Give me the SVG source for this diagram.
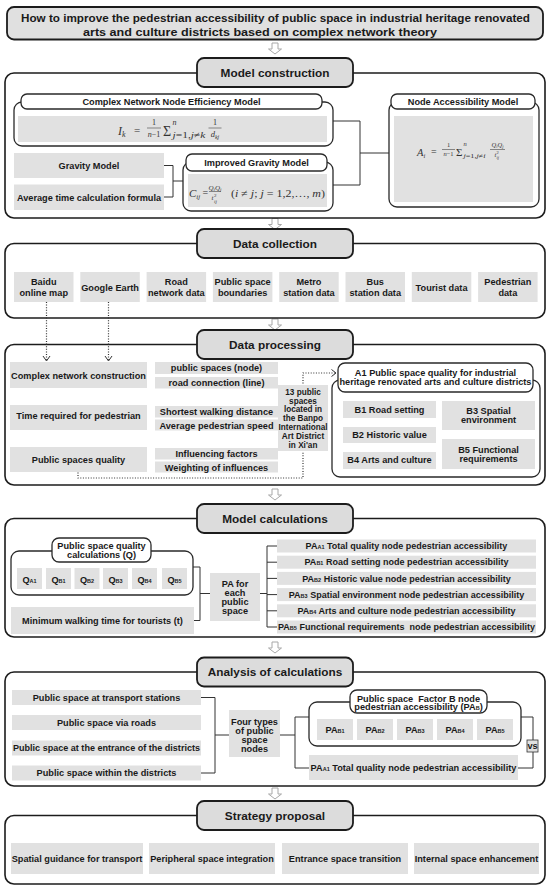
<svg xmlns="http://www.w3.org/2000/svg" width="550" height="889" viewBox="0 0 550 889">
<defs>
<style>
.box{fill:#e1e1e1}
.hdr{fill:#dcdcdc;stroke:#1c1c1c;stroke-width:1.8}
.outer{fill:none;stroke:#1c1c1c;stroke-width:1.6}
.cont{fill:#fff;stroke:#2a2a2a;stroke-width:1.3}
.pill{fill:#fff;stroke:#2a2a2a;stroke-width:1.3}
.t{font-family:"Liberation Sans",Arial,sans-serif;font-weight:bold;font-size:9.2px;fill:#1a1a1a;text-anchor:middle}
.h{font-size:11.8px}
.ttl{font-size:11.5px}
.s8{font-size:8.2px}
.s9{font-size:9px}
.f{font-family:"Liberation Serif","Times New Roman",serif;font-style:italic;fill:#333}
.m{text-anchor:middle}
.up{font-style:normal}
.conn{fill:none;stroke:#333;stroke-width:1}
.dot{fill:none;stroke:#333;stroke-width:1.2;stroke-dasharray:1 1.6}
.fl{stroke:#444;stroke-width:0.6}
.harrow{fill:#fff;stroke:#a8a8a8;stroke-width:1}
</style>
<path id="ha" d="M-3,0 h6 v6 h3.5 l-6.5,5 l-6.5,-5 h3.5 z"/>
</defs>
<rect width="550" height="889" fill="#fff"/>

<!-- title -->
<g id="title">
<rect x="7" y="7" width="536" height="32.5" rx="7" fill="#e0e0e0" stroke="#1c1c1c" stroke-width="1.8"/>
<text class="t ttl" x="275.5" y="22" textLength="509" lengthAdjust="spacingAndGlyphs">How to improve the pedestrian accessibility of public space in industrial heritage renovated</text>
<text class="t ttl" x="260" y="36" textLength="354" lengthAdjust="spacingAndGlyphs">arts and culture districts based on complex network theory</text>
</g>

<!-- flow arrows -->
<g id="flow-arrows">
<use href="#ha" class="harrow" x="275" y="43"/>
<use href="#ha" class="harrow" x="275" y="218.5"/>
<use href="#ha" class="harrow" x="275" y="319"/>
<use href="#ha" class="harrow" x="275" y="489"/>
<use href="#ha" class="harrow" x="275" y="642"/>
<use href="#ha" class="harrow" x="275" y="788"/>
</g>

<!-- section frames -->
<g id="sec-model-construction">
<rect class="outer" x="5" y="73" width="540" height="145" rx="9"/>
<rect class="hdr" x="197" y="58" width="156" height="29" rx="7"/>
<text class="t h" x="275" y="76.7">Model construction</text>
</g>
<g id="sec-data-collection">
<rect class="outer" x="5" y="243.5" width="540" height="74.5" rx="9"/>
<rect class="hdr" x="197" y="229" width="156" height="29" rx="7"/>
<text class="t h" x="275" y="247.7">Data collection</text>
</g>
<g id="sec-data-processing">
<rect class="outer" x="5" y="344.5" width="540" height="140.5" rx="9"/>
<rect class="hdr" x="197" y="330" width="156" height="29" rx="7"/>
<text class="t h" x="275" y="348.7">Data processing</text>
</g>
<g id="sec-model-calculations">
<rect class="outer" x="5" y="518.5" width="540" height="118.5" rx="9"/>
<rect class="hdr" x="197" y="504" width="156" height="29" rx="7"/>
<text class="t h" x="275" y="522.7">Model calculations</text>
</g>
<g id="sec-analysis">
<rect class="outer" x="5" y="672" width="540" height="114" rx="9"/>
<rect class="hdr" x="197" y="657.5" width="156" height="29" rx="7"/>
<text class="t h" x="275" y="676.2">Analysis of calculations</text>
</g>
<g id="sec-strategy">
<rect class="outer" x="5" y="815.5" width="540" height="68.5" rx="9"/>
<rect class="hdr" x="197" y="801" width="156" height="29" rx="7"/>
<text class="t h" x="275" y="819.7">Strategy proposal</text>
</g>

<!-- connectors -->
<g id="connectors">
<path class="conn" d="M164,165.5 H173 V197 H164 M173,181 H183"/>
<path class="conn" d="M333,121 H360 V185 H333 M360,153 H389"/>
<path class="dot" d="M46.5,302 V360"/>
<path class="conn" d="M43,356 L46.5,361 L50,356"/>
<path class="dot" d="M108.5,302 V360"/>
<path class="conn" d="M105,356 L108.5,361 L112,356"/>
<path class="dot" d="M78,472.5 V478 H303 V373 H335"/>
<path class="conn" d="M331.5,369.5 L336,373 L331.5,376.5"/>
<path class="conn" d="M193,567 H200 V620.5 H194 M200,593.5 H210"/>
<path class="conn" d="M260,593.5 H267 M267,546 V627 M267,546 H277 M267,562.2 H277 M267,578.4 H277 M267,594.6 H277 M267,610.8 H277 M267,627 H277"/>
<path class="conn" d="M201,697.5 H215 V773 H201 M215,735 H229"/>
<path class="conn" d="M280,735 H295 M295,717 V768 M295,717 H309 M295,768 H309"/>
<path class="conn" d="M521,717 H533 V768 H518"/>
</g>

<!-- Model construction nodes -->
<g id="node-efficiency-model">
<rect class="cont" x="14" y="102" width="319" height="44" rx="8"/>
<rect class="box" x="18" y="116" width="309" height="26"/>
<rect class="pill" x="21" y="94" width="301" height="15" rx="6"/>
<text class="t" x="171.5" y="104.8">Complex Network Node Efficiency Model</text>
<text class="f" x="118" y="135" font-size="12">I<tspan font-size="8" dy="2">k</tspan></text>
<text class="f up" x="134" y="133.5" font-size="11">=</text>
<text class="f up m" x="154" y="125" font-size="8">1</text>
<line class="fl" x1="147" y1="128" x2="161" y2="128"/>
<text class="f m" x="154" y="136.5" font-size="8">n<tspan class="up">−1</tspan></text>
<text class="f up" x="163" y="135.5" font-size="14">Σ</text>
<text class="f" x="172.5" y="125" font-size="8">n</text>
<text class="f" x="172.5" y="138" font-size="9" textLength="33" lengthAdjust="spacingAndGlyphs">j<tspan class="up">=1,</tspan>j<tspan class="up">≠</tspan>k</text>
<text class="f up m" x="215" y="125" font-size="8">1</text>
<line class="fl" x1="208.5" y1="128" x2="221.5" y2="128"/>
<text class="f m" x="215" y="137" font-size="8.5">d<tspan font-size="6" dy="1.5">kj</tspan></text>
</g>

<g id="node-accessibility-model">
<rect class="cont" x="389" y="102" width="150" height="105" rx="8"/>
<rect class="box" x="394" y="116" width="139" height="86"/>
<rect class="pill" x="391" y="94" width="144" height="15" rx="6"/>
<text class="t" x="463" y="104.8">Node Accessibility Model</text>
<text class="f" x="417" y="156" font-size="10.5">A<tspan font-size="6.5" dy="2">i</tspan></text>
<text class="f up" x="431" y="155" font-size="10">=</text>
<text class="f up m" x="448.5" y="147" font-size="6.5">1</text>
<line class="fl" x1="442" y1="149.5" x2="455" y2="149.5"/>
<text class="f m" x="448.5" y="156" font-size="6.5">n<tspan class="up">−1</tspan></text>
<text class="f up" x="456" y="156" font-size="11">Σ</text>
<text class="f" x="463.5" y="146" font-size="6.5">n</text>
<text class="f" x="463.5" y="157.5" font-size="6.5" textLength="22" lengthAdjust="spacingAndGlyphs">j<tspan class="up">=1,</tspan>j<tspan class="up">≠</tspan>i</text>
<text class="f m" x="497.5" y="147" font-size="6.5">Q<tspan font-size="4.5" dy="1.2">i</tspan><tspan dy="-1.2">Q</tspan><tspan font-size="4.5" dy="1.2">j</tspan></text>
<line class="fl" x1="490" y1="149.5" x2="505" y2="149.5"/>
<text class="f" x="494.5" y="157" font-size="6.5">t</text>
<text class="f up" x="496.5" y="154" font-size="4.5">2</text>
<text class="f" x="496.5" y="159" font-size="4.5">ij</text>
</g>

<g id="node-gravity-model">
<rect class="box" x="14" y="153" width="150" height="25"/>
<text class="t" x="89" y="169">Gravity Model</text>
</g>
<g id="node-average-time">
<rect class="box" x="14" y="184.5" width="150" height="25.5"/>
<text class="t" x="89" y="200.5">Average time calculation formula</text>
</g>

<g id="node-improved-gravity">
<rect class="cont" x="183" y="162" width="150" height="49" rx="8"/>
<rect class="box" x="188" y="174" width="139" height="33"/>
<rect class="pill" x="186" y="154" width="141" height="17" rx="6"/>
<text class="t" x="256.5" y="165.8">Improved Gravity Model</text>
<text class="f" x="189" y="197" font-size="11">C<tspan font-size="7" dy="2">ij</tspan></text>
<text class="f up" x="202.5" y="196" font-size="10">=</text>
<text class="f m" x="215" y="189.5" font-size="7">Q<tspan font-size="5" dy="1.5">i</tspan><tspan dy="-1.5">Q</tspan><tspan font-size="5" dy="1.5">j</tspan></text>
<line class="fl" x1="209" y1="191.5" x2="221" y2="191.5"/>
<text class="f" x="211.5" y="200" font-size="7">t</text>
<text class="f up" x="214" y="197" font-size="5">2</text>
<text class="f" x="214" y="202.5" font-size="5">ij</text>
<text class="f" x="231" y="197" font-size="10.5" textLength="94" lengthAdjust="spacingAndGlyphs"><tspan class="up">(</tspan>i <tspan class="up">≠</tspan> j<tspan class="up">;</tspan> j <tspan class="up">= 1,2,…,</tspan> m<tspan class="up">)</tspan></text>
</g>

<!-- Data collection nodes -->
<g id="dc-baidu"><rect class="box" x="14" y="272" width="59.5" height="30"/><text class="t" x="43.75" y="284.5">Baidu</text><text class="t" x="43.75" y="296">online map</text></g>
<g id="dc-google"><rect class="box" x="80.3" y="272" width="59.5" height="30"/><text class="t" x="110.05" y="290.5">Google Earth</text></g>
<g id="dc-road"><rect class="box" x="146.6" y="272" width="59.5" height="30"/><text class="t" x="176.35" y="284.5">Road</text><text class="t" x="176.35" y="296">network data</text></g>
<g id="dc-boundaries"><rect class="box" x="212.9" y="272" width="59.5" height="30"/><text class="t" x="242.65" y="284.5">Public space</text><text class="t" x="242.65" y="296">boundaries</text></g>
<g id="dc-metro"><rect class="box" x="279.2" y="272" width="59.5" height="30"/><text class="t" x="308.95" y="284.5">Metro</text><text class="t" x="308.95" y="296">station data</text></g>
<g id="dc-bus"><rect class="box" x="345.5" y="272" width="59.5" height="30"/><text class="t" x="375.25" y="284.5">Bus</text><text class="t" x="375.25" y="296">station data</text></g>
<g id="dc-tourist"><rect class="box" x="411.8" y="272" width="59.5" height="30"/><text class="t" x="441.55" y="290.5">Tourist data</text></g>
<g id="dc-pedestrian"><rect class="box" x="478.1" y="272" width="59.5" height="30"/><text class="t" x="507.85" y="284.5">Pedestrian</text><text class="t" x="507.85" y="296">data</text></g>

<!-- Data processing nodes -->
<g id="dp-network"><rect class="box" x="10" y="362" width="137" height="26"/><text class="t" x="78.5" y="379">Complex network construction</text></g>
<g id="dp-time"><rect class="box" x="10" y="405" width="137" height="25"/><text class="t" x="78.5" y="419.3">Time required for pedestrian</text></g>
<g id="dp-quality"><rect class="box" x="10" y="447" width="137" height="25"/><text class="t" x="78.5" y="462.5">Public spaces quality</text></g>
<g id="dp-node"><rect class="box" x="155" y="362" width="123" height="12"/><text class="t" x="216.5" y="371.3">public spaces (node)</text></g>
<g id="dp-line"><rect class="box" x="155" y="377" width="123" height="11.5"/><text class="t" x="216.5" y="386">road connection (line)</text></g>
<g id="dp-distance"><rect class="box" x="155" y="406" width="123" height="11.5"/><text class="t" x="216.5" y="415">Shortest walking distance</text></g>
<g id="dp-speed"><rect class="box" x="155" y="419.5" width="123" height="11"/><text class="t" x="216.5" y="429">Average pedestrian speed</text></g>
<g id="dp-factors"><rect class="box" x="155" y="448" width="123" height="11.5"/><text class="t" x="216.5" y="456.8">Influencing factors</text></g>
<g id="dp-weighting"><rect class="box" x="155" y="461.5" width="123" height="11"/><text class="t" x="216.5" y="470.5">Weighting of influences</text></g>
<g id="dp-13spaces"><rect class="box" x="278" y="385" width="50" height="66"/>
<text class="t s8" x="303" y="394.6">13 public</text><text class="t s8" x="303" y="403.5">spaces</text><text class="t s8" x="303" y="412.4">located in</text><text class="t s8" x="303" y="421.3">the Banpo</text><text class="t s8" x="303" y="430.2">International</text><text class="t s8" x="303" y="439.1">Art District</text><text class="t s8" x="303" y="448">in Xi'an</text></g>
<g id="dp-a1">
<rect class="cont" x="332" y="380" width="208" height="97" rx="8"/>
<rect class="pill" x="338" y="363" width="195" height="29" rx="7"/>
<text class="t" x="435.5" y="376">A1 Public space quality for industrial</text>
<text class="t" x="435.5" y="385">heritage renovated arts and culture districts</text>
<rect class="box" x="343" y="401" width="93" height="17"/><text class="t" x="389.5" y="412.6">B1 Road setting</text>
<rect class="box" x="343" y="427" width="93" height="16"/><text class="t" x="389.5" y="438.3">B2 Historic value</text>
<rect class="box" x="343" y="452" width="93" height="17"/><text class="t" x="389.5" y="463.3">B4 Arts and culture</text>
<rect class="box" x="442" y="401" width="93" height="29"/><text class="t" x="488.5" y="414.3">B3 Spatial</text><text class="t" x="488.5" y="422.6">environment</text>
<rect class="box" x="442" y="439" width="93" height="30"/><text class="t" x="488.5" y="453.3">B5 Functional</text><text class="t" x="488.5" y="461.6">requirements</text>
</g>

<!-- Model calculations nodes -->
<g id="mc-quality">
<rect class="cont" x="11" y="551" width="182" height="44" rx="8"/>
<rect class="pill" x="52" y="538" width="99" height="24" rx="7"/>
<text class="t" x="101.5" y="549.3">Public space quality</text>
<text class="t" x="101.5" y="557.8">calculations (Q)</text>
<rect class="box" x="17" y="568" width="25" height="21"/><text class="t" x="29.5" y="583" font-size="9.5">Q<tspan font-size="5.5">A1</tspan></text>
<rect class="box" x="46" y="568" width="25" height="21"/><text class="t" x="58.5" y="583" font-size="9.5">Q<tspan font-size="5.5">B1</tspan></text>
<rect class="box" x="74.5" y="568" width="25" height="21"/><text class="t" x="87" y="583" font-size="9.5">Q<tspan font-size="5.5">B2</tspan></text>
<rect class="box" x="103" y="568" width="25" height="21"/><text class="t" x="115.5" y="583" font-size="9.5">Q<tspan font-size="5.5">B3</tspan></text>
<rect class="box" x="132" y="568" width="25" height="21"/><text class="t" x="144.5" y="583" font-size="9.5">Q<tspan font-size="5.5">B4</tspan></text>
<rect class="box" x="162" y="568" width="25" height="21"/><text class="t" x="174.5" y="583" font-size="9.5">Q<tspan font-size="5.5">B5</tspan></text>
</g>
<g id="mc-time"><rect class="box" x="11" y="607" width="183" height="27"/><text class="t" x="102.5" y="624">Minimum walking time for tourists (t)</text></g>
<g id="mc-pa"><rect class="box" x="210" y="573" width="50" height="48"/>
<text class="t" x="235" y="587.3" font-size="9.4">PA for</text><text class="t" x="235" y="596.3" font-size="9.4">each</text><text class="t" x="235" y="605.3" font-size="9.4">public</text><text class="t" x="235" y="614.3" font-size="9.4">space</text></g>
<g id="mc-pa-a1"><rect class="box" x="277" y="539.5" width="259" height="13"/><text class="t s9" x="406.5" y="549.2">PA<tspan font-size="5.5">A1</tspan> Total quality node pedestrian accessibility</text></g>
<g id="mc-pa-b1"><rect class="box" x="277" y="555.7" width="259" height="13"/><text class="t s9" x="406.5" y="565.4">PA<tspan font-size="5.5">B1</tspan> Road setting node pedestrian accessibility</text></g>
<g id="mc-pa-b2"><rect class="box" x="277" y="571.9" width="259" height="13"/><text class="t s9" x="406.5" y="581.6">PA<tspan font-size="5.5">B2</tspan> Historic value node pedestrian accessibility</text></g>
<g id="mc-pa-b3"><rect class="box" x="277" y="588.1" width="259" height="13"/><text class="t s9" x="406.5" y="597.8">PA<tspan font-size="5.5">B3</tspan> Spatial environment node pedestrian accessibility</text></g>
<g id="mc-pa-b4"><rect class="box" x="277" y="604.3" width="259" height="13"/><text class="t s9" x="406.5" y="614">PA<tspan font-size="5.5">B4</tspan> Arts and culture node pedestrian accessibility</text></g>
<g id="mc-pa-b5"><rect class="box" x="277" y="620.5" width="259" height="13"/><text class="t s9" x="406.5" y="630.2" xml:space="preserve">PA<tspan font-size="5.5">B5</tspan> Functional requirements  node pedestrian accessibility</text></g>

<!-- Analysis nodes -->
<g id="an-transport"><rect class="box" x="12" y="690" width="189" height="15"/><text class="t" x="106.5" y="700.8">Public space at transport stations</text></g>
<g id="an-roads"><rect class="box" x="12" y="715" width="189" height="15"/><text class="t" x="106.5" y="725.8">Public space via roads</text></g>
<g id="an-entrance"><rect class="box" x="12" y="740.5" width="189" height="15"/><text class="t" x="106.5" y="751.3" textLength="187" lengthAdjust="spacingAndGlyphs">Public space at the entrance of the districts</text></g>
<g id="an-within"><rect class="box" x="12" y="765.5" width="189" height="15"/><text class="t" x="106.5" y="776.3">Public space within the districts</text></g>
<g id="an-four-types"><rect class="box" x="229" y="710" width="51" height="47"/>
<text class="t" x="254.5" y="725.2" font-size="9.4">Four types</text><text class="t" x="254.5" y="734.2" font-size="9.4">of public</text><text class="t" x="254.5" y="743.2" font-size="9.4">space</text><text class="t" x="254.5" y="752.2" font-size="9.4">nodes</text></g>
<g id="an-factor-b">
<rect class="cont" x="309" y="702" width="212" height="44" rx="8"/>
<rect class="pill" x="350" y="690" width="137" height="23" rx="7"/>
<text class="t" x="418.5" y="701.6" xml:space="preserve">Public space  Factor B node</text>
<text class="t" x="418.5" y="710.2">pedestrian accessibility (PA<tspan font-size="5.5">B</tspan>)</text>
<rect class="box" x="317" y="719" width="36" height="21"/><text class="t" x="335" y="733" font-size="9.4">PA<tspan font-size="5.5">B1</tspan></text>
<rect class="box" x="357" y="719" width="36" height="21"/><text class="t" x="375" y="733" font-size="9.4">PA<tspan font-size="5.5">B2</tspan></text>
<rect class="box" x="397" y="719" width="36" height="21"/><text class="t" x="415" y="733" font-size="9.4">PA<tspan font-size="5.5">B3</tspan></text>
<rect class="box" x="437" y="719" width="36" height="21"/><text class="t" x="455" y="733" font-size="9.4">PA<tspan font-size="5.5">B4</tspan></text>
<rect class="box" x="477" y="719" width="36" height="21"/><text class="t" x="495" y="733" font-size="9.4">PA<tspan font-size="5.5">B5</tspan></text>
</g>
<g id="an-total"><rect class="box" x="309" y="755" width="209" height="25"/><text class="t" x="413.5" y="771.3">PA<tspan font-size="5.5">A1</tspan> Total quality node pedestrian accessibility</text></g>
<g id="an-vs"><rect x="527" y="740" width="11" height="12" fill="#e1e1e1" stroke="#333" stroke-width="0.8"/><text class="t" x="532.5" y="748.6" font-size="7">vs</text></g>

<!-- Strategy nodes -->
<g id="st-transport"><rect class="box" x="11" y="843" width="132" height="31"/><text class="t" x="77" y="861.8">Spatial guidance for transport</text></g>
<g id="st-peripheral"><rect class="box" x="149" y="843" width="126" height="31"/><text class="t" x="212" y="861.8">Peripheral space integration</text></g>
<g id="st-entrance"><rect class="box" x="282" y="843" width="126" height="31"/><text class="t" x="345" y="861.8">Entrance space transition</text></g>
<g id="st-internal"><rect class="box" x="414" y="843" width="125" height="31"/><text class="t" x="476.5" y="861.8">Internal space enhancement</text></g>
</svg>
